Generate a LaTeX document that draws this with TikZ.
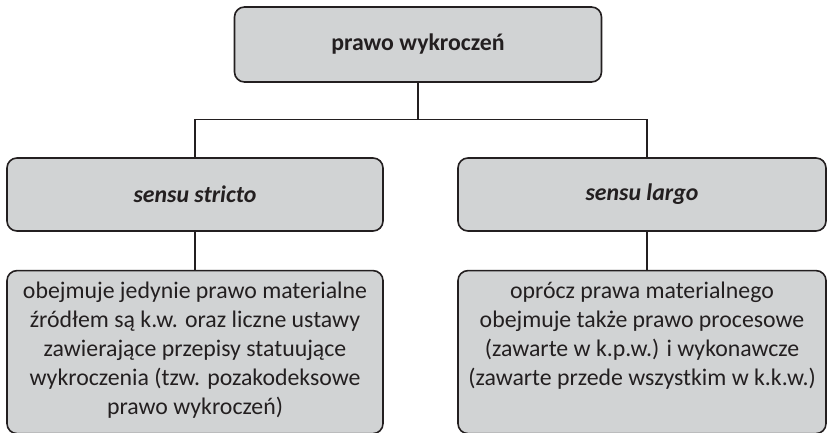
\documentclass[tikz,border=0pt]{standalone}
\usepackage{fontspec}
\setmainfont{Carlito}
\usetikzlibrary{positioning}
\definecolor{boxgray}{RGB}{209,211,212}
\definecolor{inkgray}{RGB}{35,31,32}
\newcommand{\boxfont}{\fontsize{23.8}{29}\selectfont}
\newcommand{\notetext}[1]{\parbox[c][141pt][t]{366pt}{\centering #1}}
\tikzset{basic box/.style={draw=inkgray,
                           fill=boxgray,
                           line width=1.6pt,
                           rounded corners=10pt,
                           inner sep=0pt,
                           align=center,
                           text=inkgray}}
\tikzset{head box/.style={basic box,minimum width=367pt,minimum height=75pt,font=\boxfont\bfseries}}
\tikzset{kind box/.style={basic box,minimum height=73pt,font=\boxfont\bfseries\itshape}}
\tikzset{note box/.style={basic box,minimum height=163pt,font=\boxfont}}
\tikzset{link/.style={draw=inkgray,line width=1.4pt}}

\begin{document}
\begin{tikzpicture}[x=1pt,y=1pt]
      \useasboundingbox (0,0) rectangle (827,-433);

      % boxes
      \node [head box] (top) at (418,-44.5) {prawo wykroczeń};

      \node [kind box,minimum width=376pt] (midL) at (195,-194.5) {sensu stricto};
      \node [kind box,minimum width=368pt] (midR) at (642,-194.5) {sensu largo};

      \node [note box,minimum width=376pt,below=38pt of midL] (lowL)
      {\notetext{obejmuje jedynie prawo materialne\\
      źródłem są k.w. oraz liczne ustawy\\
      zawierające przepisy statuujące\\
      wykroczenia (tzw. pozakodeksowe\\
      prawo wykroczeń)}};

      \node [note box,minimum width=368pt,below=38pt of midR] (lowR)
      {\notetext{oprócz prawa materialnego\\
      obejmuje także prawo procesowe\\
      (zawarte w k.p.w.) i wykonawcze\\
      (zawarte przede wszystkim w k.k.w.)}};

      % links
      \draw [link] (top.south) -- ++(0,-37) coordinate (bus);
      \draw [link] (midL.north) |- (bus) -| ([xshift=5pt]midR.north);
      \draw [link] (midL.south) -- (lowL.north);
      \draw [link] ([xshift=5pt]midR.south) -- ([xshift=5pt]lowR.north);

    \end{tikzpicture}
\end{document}
